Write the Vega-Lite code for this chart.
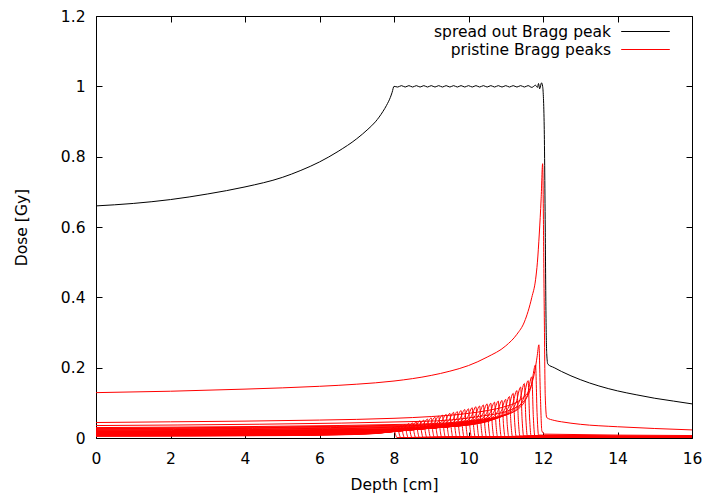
{
  "$schema": "https://vega.github.io/schema/vega-lite/v6.json",
  "width": 596,
  "height": 422,
  "autosize": {"type": "none"},
  "padding": {"left": 96, "top": 16, "right": 14, "bottom": 55},
  "background": "white",
  "config": {
    "font": "DejaVu Sans",
    "view": {"stroke": "#000000", "strokeWidth": 1},
    "axis": {
      "grid": false,
      "domain": false,
      "ticks": true,
      "tickColor": "#000000",
      "tickWidth": 1,
      "tickSize": -6,
      "labelFlush": false,
      "labelOverlap": false,
      "labelFont": "DejaVu Sans",
      "labelFontSize": 15.5,
      "labelColor": "#000000",
      "titleFont": "DejaVu Sans",
      "titleFontSize": 15.5,
      "titleFontWeight": "normal",
      "titleColor": "#000000"
    },
    "legend": {
      "labelFont": "DejaVu Sans",
      "labelFontSize": 15.5,
      "labelColor": "#000000"
    }
  },
  "datasets": {
    "sobp": [
      {"x":0,"y":0.66},{"x":1,"y":0.667},{"x":2,"y":0.678},{"x":3,"y":0.694},{"x":4,"y":0.714},{"x":5,"y":0.741},{"x":5.5,"y":0.761},{"x":6,"y":0.785},{"x":6.5,"y":0.815},{"x":7,"y":0.851},{"x":7.3,"y":0.878},{"x":7.5,"y":0.899},{"x":7.7,"y":0.928},{"x":7.8,"y":0.946},{"x":7.9,"y":0.968},{"x":7.95,"y":0.983},{"x":8,"y":1.0},
      {"x":8.1,"y":0.998},{"x":8.2,"y":1.002},{"x":8.3,"y":0.998},{"x":8.4,"y":1.002},{"x":8.5,"y":0.998},{"x":8.6,"y":1.002},{"x":8.7,"y":0.998},{"x":8.8,"y":1.002},{"x":8.9,"y":0.998},{"x":9,"y":1.002},{"x":9.1,"y":0.998},{"x":9.2,"y":1.002},{"x":9.3,"y":0.998},{"x":9.4,"y":1.002},{"x":9.5,"y":0.998},{"x":9.6,"y":1.002},{"x":9.7,"y":0.998},{"x":9.8,"y":1.002},{"x":9.9,"y":0.998},{"x":10,"y":1.002},{"x":10.1,"y":0.998},{"x":10.2,"y":1.002},{"x":10.3,"y":0.998},{"x":10.4,"y":1.002},{"x":10.5,"y":0.998},{"x":10.6,"y":1.002},{"x":10.7,"y":0.998},{"x":10.8,"y":1.002},{"x":10.9,"y":0.998},{"x":11,"y":1.002},{"x":11.1,"y":0.998},{"x":11.2,"y":1.002},{"x":11.3,"y":0.998},{"x":11.4,"y":1.002},{"x":11.5,"y":0.998},{"x":11.6,"y":1.002},{"x":11.7,"y":0.997},{"x":11.8,"y":1.003},{"x":11.85,"y":0.997},{"x":11.88,"y":1.008},{"x":11.91,"y":0.993},{"x":11.96,"y":1.01},{"x":11.99,"y":1.0},
      {"x":12.03,"y":0.9},{"x":12.06,"y":0.6},{"x":12.08,"y":0.35},{"x":12.1,"y":0.24},{"x":12.13,"y":0.21},{"x":12.3,"y":0.2},{"x":12.5,"y":0.189},{"x":13,"y":0.166},{"x":13.5,"y":0.148},{"x":14,"y":0.134},{"x":14.5,"y":0.123},{"x":15,"y":0.113},{"x":15.5,"y":0.105},{"x":16,"y":0.097}
    ],
    "pristine": [
      {"c":12,"x":0,"y":0.129},{"c":12,"x":2,"y":0.133},{"c":12,"x":4,"y":0.139},{"c":12,"x":6,"y":0.147},{"c":12,"x":7,"y":0.153},{"c":12,"x":8,"y":0.162},{"c":12,"x":9,"y":0.178},{"c":12,"x":9.5,"y":0.19},{"c":12,"x":10,"y":0.206},{"c":12,"x":10.5,"y":0.23},{"c":12,"x":11,"y":0.262},{"c":12,"x":11.3,"y":0.295},{"c":12,"x":11.5,"y":0.33},{"c":12,"x":11.7,"y":0.4},{"c":12,"x":11.8,"y":0.45},{"c":12,"x":11.85,"y":0.5},{"c":12,"x":11.9,"y":0.58},{"c":12,"x":11.95,"y":0.68},{"c":12,"x":11.99,"y":0.78},{"c":12,"x":12.03,"y":0.4},{"c":12,"x":12.06,"y":0.12},{"c":12,"x":12.1,"y":0.058},{"c":12,"x":12.3,"y":0.05},{"c":12,"x":12.5,"y":0.046},{"c":12,"x":13,"y":0.039},{"c":12,"x":14,"y":0.032},{"c":12,"x":15,"y":0.027},{"c":12,"x":16,"y":0.023},
      {"c":11.9,"x":0,"y":0.044},{"c":11.9,"x":2,"y":0.046},{"c":11.9,"x":4,"y":0.048},{"c":11.9,"x":6,"y":0.051},{"c":11.9,"x":8,"y":0.056},{"c":11.9,"x":9,"y":0.061},{"c":11.9,"x":10,"y":0.07},{"c":11.9,"x":10.5,"y":0.078},{"c":11.9,"x":11,"y":0.09},{"c":11.9,"x":11.3,"y":0.102},{"c":11.9,"x":11.5,"y":0.118},{"c":11.9,"x":11.6,"y":0.13},{"c":11.9,"x":11.7,"y":0.155},{"c":11.9,"x":11.78,"y":0.19},{"c":11.9,"x":11.84,"y":0.23},{"c":11.9,"x":11.89,"y":0.265},{"c":11.9,"x":11.93,"y":0.12},{"c":11.9,"x":11.97,"y":0.02},{"c":11.9,"x":12.05,"y":0.011},{"c":11.9,"x":16,"y":0.007},
      {"c":8,"x":0,"y":0.0051},{"c":8,"x":5,"y":0.0068},{"c":8,"x":6.5,"y":0.0089},{"c":8,"x":7.3,"y":0.0114},{"c":8,"x":7.7,"y":0.0153},{"c":8,"x":7.88,"y":0.021},{"c":8,"x":8,"y":0.03},{"c":8,"x":8.04,"y":0.0105},{"c":8,"x":8.08,"y":0.0012},{"c":8,"x":16,"y":0.0008},
      {"c":8.1,"x":0,"y":0.0056},{"c":8.1,"x":5.1,"y":0.0075},{"c":8.1,"x":6.6,"y":0.0097},{"c":8.1,"x":7.4,"y":0.0125},{"c":8.1,"x":7.8,"y":0.0168},{"c":8.1,"x":7.98,"y":0.0231},{"c":8.1,"x":8.1,"y":0.033},{"c":8.1,"x":8.14,"y":0.0116},{"c":8.1,"x":8.18,"y":0.0013},{"c":8.1,"x":16,"y":0.0008},
      {"c":8.2,"x":0,"y":0.006},{"c":8.2,"x":5.2,"y":0.008},{"c":8.2,"x":6.7,"y":0.0103},{"c":8.2,"x":7.5,"y":0.0133},{"c":8.2,"x":7.9,"y":0.0179},{"c":8.2,"x":8.08,"y":0.0245},{"c":8.2,"x":8.2,"y":0.035},{"c":8.2,"x":8.24,"y":0.0123},{"c":8.2,"x":8.28,"y":0.0014},{"c":8.2,"x":16,"y":0.0009},
      {"c":8.3,"x":0,"y":0.0065},{"c":8.3,"x":5.3,"y":0.0087},{"c":8.3,"x":6.8,"y":0.0112},{"c":8.3,"x":7.6,"y":0.0144},{"c":8.3,"x":8,"y":0.0194},{"c":8.3,"x":8.18,"y":0.0266},{"c":8.3,"x":8.3,"y":0.038},{"c":8.3,"x":8.34,"y":0.0133},{"c":8.3,"x":8.38,"y":0.0015},{"c":8.3,"x":16,"y":0.001},
      {"c":8.4,"x":0,"y":0.007},{"c":8.4,"x":5.4,"y":0.0093},{"c":8.4,"x":6.9,"y":0.0121},{"c":8.4,"x":7.7,"y":0.0156},{"c":8.4,"x":8.1,"y":0.0209},{"c":8.4,"x":8.28,"y":0.0287},{"c":8.4,"x":8.4,"y":0.041},{"c":8.4,"x":8.44,"y":0.0144},{"c":8.4,"x":8.48,"y":0.0016},{"c":8.4,"x":16,"y":0.001},
      {"c":8.5,"x":0,"y":0.0073},{"c":8.5,"x":5.5,"y":0.0098},{"c":8.5,"x":7,"y":0.0127},{"c":8.5,"x":7.8,"y":0.0163},{"c":8.5,"x":8.2,"y":0.0219},{"c":8.5,"x":8.38,"y":0.0301},{"c":8.5,"x":8.5,"y":0.043},{"c":8.5,"x":8.54,"y":0.0151},{"c":8.5,"x":8.58,"y":0.0017},{"c":8.5,"x":16,"y":0.0011},
      {"c":8.6,"x":0,"y":0.0078},{"c":8.6,"x":5.6,"y":0.0105},{"c":8.6,"x":7.1,"y":0.0136},{"c":8.6,"x":7.9,"y":0.0175},{"c":8.6,"x":8.3,"y":0.0235},{"c":8.6,"x":8.48,"y":0.0322},{"c":8.6,"x":8.6,"y":0.046},{"c":8.6,"x":8.64,"y":0.0161},{"c":8.6,"x":8.68,"y":0.0018},{"c":8.6,"x":16,"y":0.0012},
      {"c":8.7,"x":0,"y":0.0083},{"c":8.7,"x":5.7,"y":0.0112},{"c":8.7,"x":7.2,"y":0.0145},{"c":8.7,"x":8,"y":0.0186},{"c":8.7,"x":8.4,"y":0.025},{"c":8.7,"x":8.58,"y":0.0343},{"c":8.7,"x":8.7,"y":0.049},{"c":8.7,"x":8.74,"y":0.0172},{"c":8.7,"x":8.78,"y":0.002},{"c":8.7,"x":16,"y":0.0012},
      {"c":8.8,"x":0,"y":0.0087},{"c":8.8,"x":5.8,"y":0.0116},{"c":8.8,"x":7.3,"y":0.015},{"c":8.8,"x":8.1,"y":0.0194},{"c":8.8,"x":8.5,"y":0.026},{"c":8.8,"x":8.68,"y":0.0357},{"c":8.8,"x":8.8,"y":0.051},{"c":8.8,"x":8.84,"y":0.0179},{"c":8.8,"x":8.88,"y":0.002},{"c":8.8,"x":16,"y":0.0013},
      {"c":8.9,"x":0,"y":0.0092},{"c":8.9,"x":5.9,"y":0.0123},{"c":8.9,"x":7.4,"y":0.0159},{"c":8.9,"x":8.2,"y":0.0205},{"c":8.9,"x":8.6,"y":0.0275},{"c":8.9,"x":8.78,"y":0.0378},{"c":8.9,"x":8.9,"y":0.054},{"c":8.9,"x":8.94,"y":0.0189},{"c":8.9,"x":8.98,"y":0.0022},{"c":8.9,"x":16,"y":0.0014},
      {"c":9,"x":0,"y":0.0097},{"c":9,"x":6,"y":0.013},{"c":9,"x":7.5,"y":0.0168},{"c":9,"x":8.3,"y":0.0217},{"c":9,"x":8.7,"y":0.0291},{"c":9,"x":8.88,"y":0.0399},{"c":9,"x":9,"y":0.057},{"c":9,"x":9.04,"y":0.02},{"c":9,"x":9.08,"y":0.0023},{"c":9,"x":16,"y":0.0014},
      {"c":9.1,"x":0,"y":0.01},{"c":9.1,"x":6.1,"y":0.0135},{"c":9.1,"x":7.6,"y":0.0174},{"c":9.1,"x":8.4,"y":0.0224},{"c":9.1,"x":8.8,"y":0.0301},{"c":9.1,"x":8.98,"y":0.0413},{"c":9.1,"x":9.1,"y":0.059},{"c":9.1,"x":9.14,"y":0.0207},{"c":9.1,"x":9.18,"y":0.0024},{"c":9.1,"x":16,"y":0.0015},
      {"c":9.2,"x":0,"y":0.0105},{"c":9.2,"x":6.2,"y":0.0141},{"c":9.2,"x":7.7,"y":0.0183},{"c":9.2,"x":8.5,"y":0.0236},{"c":9.2,"x":8.9,"y":0.0316},{"c":9.2,"x":9.08,"y":0.0434},{"c":9.2,"x":9.2,"y":0.062},{"c":9.2,"x":9.24,"y":0.0217},{"c":9.2,"x":9.28,"y":0.0025},{"c":9.2,"x":16,"y":0.0016},
      {"c":9.3,"x":0,"y":0.011},{"c":9.3,"x":6.3,"y":0.0148},{"c":9.3,"x":7.8,"y":0.0192},{"c":9.3,"x":8.6,"y":0.0247},{"c":9.3,"x":9,"y":0.0332},{"c":9.3,"x":9.18,"y":0.0455},{"c":9.3,"x":9.3,"y":0.065},{"c":9.3,"x":9.34,"y":0.0228},{"c":9.3,"x":9.38,"y":0.0026},{"c":9.3,"x":16,"y":0.0016},
      {"c":9.4,"x":0,"y":0.0114},{"c":9.4,"x":6.4,"y":0.0153},{"c":9.4,"x":7.9,"y":0.0198},{"c":9.4,"x":8.7,"y":0.0255},{"c":9.4,"x":9.1,"y":0.0342},{"c":9.4,"x":9.28,"y":0.0469},{"c":9.4,"x":9.4,"y":0.067},{"c":9.4,"x":9.44,"y":0.0235},{"c":9.4,"x":9.48,"y":0.0027},{"c":9.4,"x":16,"y":0.0017},
      {"c":9.5,"x":0,"y":0.0119},{"c":9.5,"x":6.5,"y":0.016},{"c":9.5,"x":8,"y":0.0207},{"c":9.5,"x":8.8,"y":0.0266},{"c":9.5,"x":9.2,"y":0.0357},{"c":9.5,"x":9.38,"y":0.049},{"c":9.5,"x":9.5,"y":0.07},{"c":9.5,"x":9.54,"y":0.0245},{"c":9.5,"x":9.58,"y":0.0028},{"c":9.5,"x":16,"y":0.0018},
      {"c":9.6,"x":0,"y":0.0124},{"c":9.6,"x":6.6,"y":0.0166},{"c":9.6,"x":8.1,"y":0.0215},{"c":9.6,"x":8.9,"y":0.0277},{"c":9.6,"x":9.3,"y":0.0372},{"c":9.6,"x":9.48,"y":0.0511},{"c":9.6,"x":9.6,"y":0.073},{"c":9.6,"x":9.64,"y":0.0256},{"c":9.6,"x":9.68,"y":0.0029},{"c":9.6,"x":16,"y":0.0018},
      {"c":9.7,"x":0,"y":0.0128},{"c":9.7,"x":6.7,"y":0.0171},{"c":9.7,"x":8.2,"y":0.0221},{"c":9.7,"x":9,"y":0.0285},{"c":9.7,"x":9.4,"y":0.0383},{"c":9.7,"x":9.58,"y":0.0525},{"c":9.7,"x":9.7,"y":0.075},{"c":9.7,"x":9.74,"y":0.0263},{"c":9.7,"x":9.78,"y":0.003},{"c":9.7,"x":16,"y":0.0019},
      {"c":9.8,"x":0,"y":0.0133},{"c":9.8,"x":6.8,"y":0.0178},{"c":9.8,"x":8.3,"y":0.023},{"c":9.8,"x":9.1,"y":0.0296},{"c":9.8,"x":9.5,"y":0.0398},{"c":9.8,"x":9.68,"y":0.0546},{"c":9.8,"x":9.8,"y":0.078},{"c":9.8,"x":9.84,"y":0.0273},{"c":9.8,"x":9.88,"y":0.0031},{"c":9.8,"x":16,"y":0.002},
      {"c":9.9,"x":0,"y":0.0138},{"c":9.9,"x":6.9,"y":0.0185},{"c":9.9,"x":8.4,"y":0.0239},{"c":9.9,"x":9.2,"y":0.0308},{"c":9.9,"x":9.6,"y":0.0413},{"c":9.9,"x":9.78,"y":0.0567},{"c":9.9,"x":9.9,"y":0.081},{"c":9.9,"x":9.94,"y":0.0284},{"c":9.9,"x":9.98,"y":0.0032},{"c":9.9,"x":16,"y":0.002},
      {"c":10,"x":0,"y":0.0141},{"c":10,"x":7,"y":0.0189},{"c":10,"x":8.5,"y":0.0245},{"c":10,"x":9.3,"y":0.0315},{"c":10,"x":9.7,"y":0.0423},{"c":10,"x":9.88,"y":0.0581},{"c":10,"x":10,"y":0.083},{"c":10,"x":10.04,"y":0.0291},{"c":10,"x":10.08,"y":0.0033},{"c":10,"x":16,"y":0.0021},
      {"c":10.1,"x":0,"y":0.0146},{"c":10.1,"x":7.1,"y":0.0196},{"c":10.1,"x":8.6,"y":0.0254},{"c":10.1,"x":9.4,"y":0.0327},{"c":10.1,"x":9.8,"y":0.0439},{"c":10.1,"x":9.98,"y":0.0602},{"c":10.1,"x":10.1,"y":0.086},{"c":10.1,"x":10.14,"y":0.0301},{"c":10.1,"x":10.18,"y":0.0034},{"c":10.1,"x":16,"y":0.0022},
      {"c":10.2,"x":0,"y":0.0151},{"c":10.2,"x":7.2,"y":0.0203},{"c":10.2,"x":8.7,"y":0.0263},{"c":10.2,"x":9.5,"y":0.0338},{"c":10.2,"x":9.9,"y":0.0454},{"c":10.2,"x":10.08,"y":0.0623},{"c":10.2,"x":10.2,"y":0.089},{"c":10.2,"x":10.24,"y":0.0312},{"c":10.2,"x":10.28,"y":0.0036},{"c":10.2,"x":16,"y":0.0022},
      {"c":10.3,"x":0,"y":0.0155},{"c":10.3,"x":7.3,"y":0.0207},{"c":10.3,"x":8.8,"y":0.0268},{"c":10.3,"x":9.6,"y":0.0346},{"c":10.3,"x":10,"y":0.0464},{"c":10.3,"x":10.18,"y":0.0637},{"c":10.3,"x":10.3,"y":0.091},{"c":10.3,"x":10.34,"y":0.0319},{"c":10.3,"x":10.38,"y":0.0036},{"c":10.3,"x":16,"y":0.0023},
      {"c":10.4,"x":0,"y":0.016},{"c":10.4,"x":7.4,"y":0.0214},{"c":10.4,"x":8.9,"y":0.0277},{"c":10.4,"x":9.7,"y":0.0357},{"c":10.4,"x":10.1,"y":0.0479},{"c":10.4,"x":10.28,"y":0.0658},{"c":10.4,"x":10.4,"y":0.094},{"c":10.4,"x":10.44,"y":0.0329},{"c":10.4,"x":10.48,"y":0.0038},{"c":10.4,"x":16,"y":0.0024},
      {"c":10.5,"x":0,"y":0.0165},{"c":10.5,"x":7.5,"y":0.0221},{"c":10.5,"x":9,"y":0.0286},{"c":10.5,"x":9.8,"y":0.0369},{"c":10.5,"x":10.2,"y":0.0495},{"c":10.5,"x":10.38,"y":0.0679},{"c":10.5,"x":10.5,"y":0.097},{"c":10.5,"x":10.54,"y":0.034},{"c":10.5,"x":10.58,"y":0.0039},{"c":10.5,"x":16,"y":0.0024},
      {"c":10.6,"x":0,"y":0.0168},{"c":10.6,"x":7.6,"y":0.0226},{"c":10.6,"x":9.1,"y":0.0292},{"c":10.6,"x":9.9,"y":0.0376},{"c":10.6,"x":10.3,"y":0.0505},{"c":10.6,"x":10.48,"y":0.0693},{"c":10.6,"x":10.6,"y":0.099},{"c":10.6,"x":10.64,"y":0.0347},{"c":10.6,"x":10.68,"y":0.004},{"c":10.6,"x":16,"y":0.0025},
      {"c":10.7,"x":0,"y":0.0173},{"c":10.7,"x":7.7,"y":0.0233},{"c":10.7,"x":9.2,"y":0.0301},{"c":10.7,"x":10,"y":0.0388},{"c":10.7,"x":10.4,"y":0.052},{"c":10.7,"x":10.58,"y":0.0714},{"c":10.7,"x":10.7,"y":0.102},{"c":10.7,"x":10.74,"y":0.0357},{"c":10.7,"x":10.78,"y":0.0041},{"c":10.7,"x":16,"y":0.0026},
      {"c":10.8,"x":0,"y":0.0179},{"c":10.8,"x":7.8,"y":0.0239},{"c":10.8,"x":9.3,"y":0.031},{"c":10.8,"x":10.1,"y":0.0399},{"c":10.8,"x":10.5,"y":0.0536},{"c":10.8,"x":10.68,"y":0.0735},{"c":10.8,"x":10.8,"y":0.105},{"c":10.8,"x":10.84,"y":0.0368},{"c":10.8,"x":10.88,"y":0.0042},{"c":10.8,"x":16,"y":0.0026},
      {"c":10.9,"x":0,"y":0.0182},{"c":10.9,"x":7.9,"y":0.0244},{"c":10.9,"x":9.4,"y":0.0316},{"c":10.9,"x":10.2,"y":0.0407},{"c":10.9,"x":10.6,"y":0.0546},{"c":10.9,"x":10.78,"y":0.0749},{"c":10.9,"x":10.9,"y":0.107},{"c":10.9,"x":10.94,"y":0.0375},{"c":10.9,"x":10.98,"y":0.0043},{"c":10.9,"x":16,"y":0.0027},
      {"c":11,"x":0,"y":0.0187},{"c":11,"x":8,"y":0.0251},{"c":11,"x":9.5,"y":0.0325},{"c":11,"x":10.3,"y":0.0418},{"c":11,"x":10.7,"y":0.0561},{"c":11,"x":10.88,"y":0.077},{"c":11,"x":11,"y":0.11},{"c":11,"x":11.04,"y":0.0385},{"c":11,"x":11.08,"y":0.0044},{"c":11,"x":16,"y":0.0028},
      {"c":11.1,"x":0,"y":0.0201},{"c":11.1,"x":8.1,"y":0.0269},{"c":11.1,"x":9.6,"y":0.0348},{"c":11.1,"x":10.4,"y":0.0448},{"c":11.1,"x":10.8,"y":0.0602},{"c":11.1,"x":10.98,"y":0.0826},{"c":11.1,"x":11.1,"y":0.118},{"c":11.1,"x":11.14,"y":0.0413},{"c":11.1,"x":11.18,"y":0.0047},{"c":11.1,"x":16,"y":0.003},
      {"c":11.2,"x":0,"y":0.0216},{"c":11.2,"x":8.2,"y":0.029},{"c":11.2,"x":9.7,"y":0.0375},{"c":11.2,"x":10.5,"y":0.0483},{"c":11.2,"x":10.9,"y":0.0648},{"c":11.2,"x":11.08,"y":0.0889},{"c":11.2,"x":11.2,"y":0.127},{"c":11.2,"x":11.24,"y":0.0445},{"c":11.2,"x":11.28,"y":0.0051},{"c":11.2,"x":16,"y":0.0032},
      {"c":11.3,"x":0,"y":0.023},{"c":11.3,"x":8.3,"y":0.0308},{"c":11.3,"x":9.8,"y":0.0398},{"c":11.3,"x":10.6,"y":0.0513},{"c":11.3,"x":11,"y":0.0689},{"c":11.3,"x":11.18,"y":0.0945},{"c":11.3,"x":11.3,"y":0.135},{"c":11.3,"x":11.34,"y":0.0473},{"c":11.3,"x":11.38,"y":0.0054},{"c":11.3,"x":16,"y":0.0034},
      {"c":11.4,"x":0,"y":0.0247},{"c":11.4,"x":8.4,"y":0.0331},{"c":11.4,"x":9.9,"y":0.0428},{"c":11.4,"x":10.7,"y":0.0551},{"c":11.4,"x":11.1,"y":0.074},{"c":11.4,"x":11.28,"y":0.1015},{"c":11.4,"x":11.4,"y":0.145},{"c":11.4,"x":11.44,"y":0.0508},{"c":11.4,"x":11.48,"y":0.0058},{"c":11.4,"x":16,"y":0.0036},
      {"c":11.5,"x":0,"y":0.0264},{"c":11.5,"x":8.5,"y":0.0353},{"c":11.5,"x":10,"y":0.0457},{"c":11.5,"x":10.8,"y":0.0589},{"c":11.5,"x":11.2,"y":0.0791},{"c":11.5,"x":11.38,"y":0.1085},{"c":11.5,"x":11.5,"y":0.155},{"c":11.5,"x":11.54,"y":0.0543},{"c":11.5,"x":11.58,"y":0.0062},{"c":11.5,"x":16,"y":0.0039},
      {"c":11.6,"x":0,"y":0.0277},{"c":11.6,"x":8.6,"y":0.0372},{"c":11.6,"x":10.1,"y":0.0481},{"c":11.6,"x":10.9,"y":0.0619},{"c":11.6,"x":11.3,"y":0.0831},{"c":11.6,"x":11.48,"y":0.1141},{"c":11.6,"x":11.6,"y":0.163},{"c":11.6,"x":11.64,"y":0.0571},{"c":11.6,"x":11.68,"y":0.0065},{"c":11.6,"x":16,"y":0.0041},
      {"c":11.7,"x":0,"y":0.0296},{"c":11.7,"x":8.7,"y":0.0397},{"c":11.7,"x":10.2,"y":0.0513},{"c":11.7,"x":11,"y":0.0661},{"c":11.7,"x":11.4,"y":0.0887},{"c":11.7,"x":11.58,"y":0.1218},{"c":11.7,"x":11.7,"y":0.174},{"c":11.7,"x":11.74,"y":0.0609},{"c":11.7,"x":11.78,"y":0.007},{"c":11.7,"x":16,"y":0.0044},
      {"c":11.8,"x":0,"y":0.0354},{"c":11.8,"x":8.8,"y":0.0474},{"c":11.8,"x":10.3,"y":0.0614},{"c":11.8,"x":11.1,"y":0.079},{"c":11.8,"x":11.5,"y":0.1061},{"c":11.8,"x":11.68,"y":0.1456},{"c":11.8,"x":11.8,"y":0.208},{"c":11.8,"x":11.84,"y":0.0728},{"c":11.8,"x":11.88,"y":0.0083},{"c":11.8,"x":16,"y":0.0052}
    ]
  },
  "layer": [
    {
      "data": {"name": "sobp"},
      "mark": {"type": "line", "strokeWidth": 1, "clip": true, "interpolate": "monotone"},
      "encoding": {
        "x": {
          "field": "x", "type": "quantitative",
          "scale": {"domain": [0, 16], "nice": false, "zero": false},
          "axis": {"orient": "bottom", "values": [0, 2, 4, 6, 8, 10, 12, 14, 16], "title": "Depth [cm]", "labelPadding": 19, "titlePadding": 11}
        },
        "y": {
          "field": "y", "type": "quantitative",
          "scale": {"domain": [0, 1.2], "nice": false},
          "axis": {"orient": "left", "values": [0, 0.2, 0.4, 0.6, 0.8, 1, 1.2], "format": "~g", "title": "Dose [Gy]", "labelPadding": 17, "titlePadding": 31}
        },
        "color": {
          "datum": "spread out Bragg peak", "type": "nominal",
          "scale": {"domain": ["spread out Bragg peak", "pristine Bragg peaks"], "range": ["#000000", "#ff0000"]},
          "legend": {
            "orient": "none", "legendX": 540, "legendY": 6, "title": null,
            "symbolType": "M-2.7,0H2.7", "symbolSize": 324, "symbolStrokeWidth": 1,
            "labelAlign": "right", "labelOffset": -44, "labelLimit": 0, "rowPadding": 0
          }
        }
      }
    },
    {
      "data": {"name": "pristine"},
      "mark": {"type": "line", "strokeWidth": 1, "clip": true, "interpolate": "monotone"},
      "encoding": {
        "x": {
          "field": "x", "type": "quantitative",
          "axis": {"orient": "top", "values": [0, 2, 4, 6, 8, 10, 12, 14, 16], "labels": false, "title": null}
        },
        "y": {
          "field": "y", "type": "quantitative",
          "axis": {"orient": "right", "values": [0, 0.2, 0.4, 0.6, 0.8, 1, 1.2], "labels": false, "title": null}
        },
        "detail": {"field": "c", "type": "nominal"},
        "color": {"datum": "pristine Bragg peaks", "type": "nominal"}
      }
    }
  ],
  "resolve": {"axis": {"x": "independent", "y": "independent"}}
}
